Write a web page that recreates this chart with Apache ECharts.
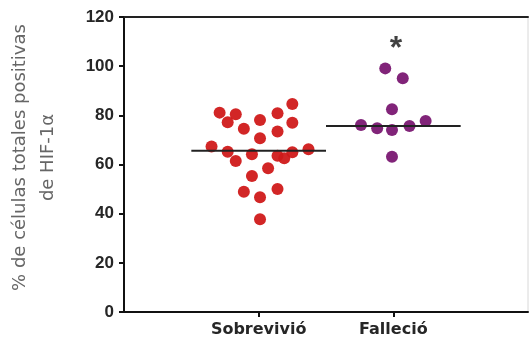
<!DOCTYPE html>
<html><head><meta charset="utf-8">
<script src="https://cdn.jsdelivr.net/npm/echarts@6/dist/echarts.min.js"></script>
<style>html,body{margin:0;padding:0;background:#fff}#c{width:529px;height:345px}</style>
</head><body><div id="c"></div>
<script>
var categories = ['Sobrevivió', 'Falleció'];
var yTicks = [0, 20, 40, 60, 80, 100, 120];
// x offsets (jitter within category) and values
var survX = [0.25,-0.29,-0.17,0.14,-0.23,0.01,0.25,-0.11,0.14,0.01,-0.35,-0.23,-0.05,0.14,0.19,0.25,0.37,-0.17,0.07,-0.05,-0.11,0.01,0.14,0.01];
var survY = [84.6,81.1,80.4,80.8,77.2,78.1,77.0,74.5,73.4,70.7,67.3,65.2,64.2,63.6,62.5,65.0,66.2,61.4,58.5,55.3,48.9,46.7,50.0,37.7];
var diedX = [-0.06,0.07,-0.01,-0.24,-0.12,-0.01,0.12,0.24,-0.01];
var diedY = [99.1,95.1,82.5,76.1,74.7,74.0,75.7,77.7,63.2];
var survMedian = 65.6;
var diedMedian = 75.7;
var starValue = 109.3;

function pts(cat, xs, ys){ return ys.map(function(v,i){ return [cat + 1 + xs[i], v]; }); }

var chart = echarts.init(document.getElementById('c'));
chart.setOption({
  animation: false,
  grid: {left: 124, right: 1, top: 17, bottom: 33, show: true, borderColor: '#d8d8d8', borderWidth: 1,
    containLabel: false, outerBoundsMode: 'none'},
  xAxis: [{
    type: 'value', min: 0, max: 3, interval: 1,
    axisLine: {lineStyle: {color: '#111', width: 2}},
    axisTick: {show: true, customValues: [1, 2], length: 5, lineStyle: {color: '#111', width: 2}},
    axisLabel: {customValues: [1, 2], formatter: function(v){ return categories[v - 1] || ''; },
      fontFamily: 'DejaVu Sans', fontWeight: 'bold', fontSize: 16, color: '#262626', margin: 10},
    splitLine: {show: false}
  },{
    type: 'value', min: 0, max: 3, position: 'top',
    axisLine: {show: true, lineStyle: {color: '#222', width: 2}},
    axisTick: {show: false}, axisLabel: {show: false}, splitLine: {show: false}
  }],
  yAxis: {
    type: 'value', min: 0, max: 120, interval: 20,
    name: '% de células totales positivas\nde HIF-1α', nameLocation: 'middle', nameGap: 62,
    nameTextStyle: {fontFamily: 'DejaVu Sans', fontSize: 18, color: '#666', lineHeight: 28, padding: [0, 0, 0, 14]},
    axisLine: {show: true, lineStyle: {color: '#111', width: 2}},
    axisTick: {show: true, length: 5, lineStyle: {color: '#111', width: 2}},
    axisLabel: {fontFamily: 'Liberation Sans, Arial', fontWeight: 'bold', fontSize: 17, color: '#262626', margin: 10,
      formatter: function(v){ return yTicks.indexOf(v) >= 0 ? String(v) : ''; }},
    splitLine: {show: false}
  },
  series: [
    {type: 'scatter', data: pts(0, survX, survY), symbolSize: 12, itemStyle: {color: '#d01a1a', opacity: 0.95}, z: 3},
    {type: 'scatter', data: pts(1, diedX, diedY), symbolSize: 12, itemStyle: {color: '#7a1872', opacity: 0.95}, z: 3},
    {type: 'line', data: [[0.5, survMedian], [1.5, survMedian]], symbol: 'none', lineStyle: {color: '#222', width: 2}, z: 4},
    {type: 'line', data: [[1.5, diedMedian], [2.5, diedMedian]], symbol: 'none', lineStyle: {color: '#222', width: 2}, z: 4},
    {type: 'scatter', data: [[2.02, starValue]], symbol: 'circle', symbolSize: 2, itemStyle: {color: 'rgba(0,0,0,0)'}, silent: true, z: 5,
      label: {show: true, position: 'inside', formatter: '*', fontFamily: 'Liberation Sans, Arial', fontWeight: 'bold', fontSize: 32, color: '#111', offset: [0, 6]}}
  ]
});
</script></body></html>
